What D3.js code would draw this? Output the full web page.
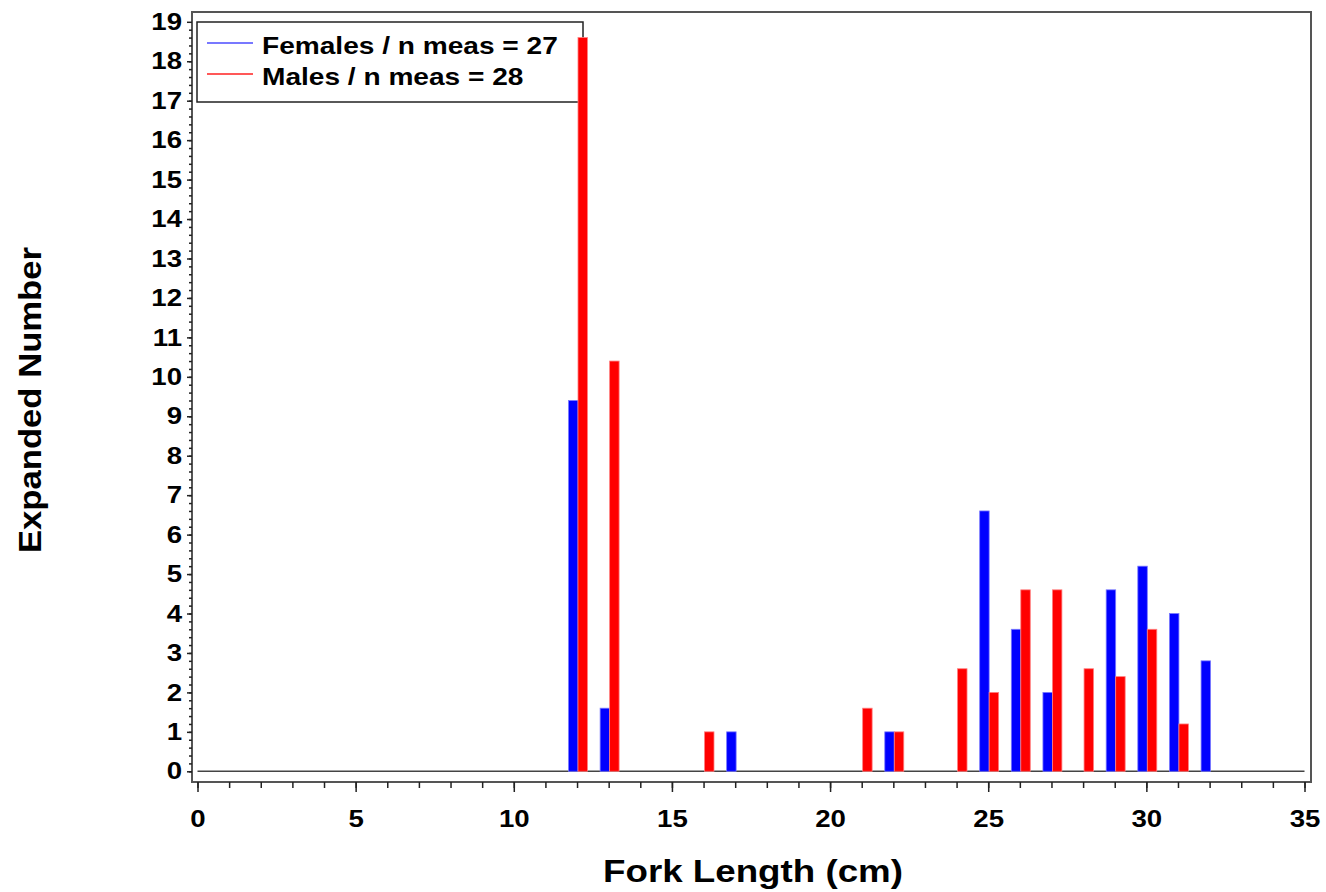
<!DOCTYPE html>
<html>

<head>
  <meta charset="utf-8">
  <title>Expanded Number by Fork Length</title>
  <style>
    body {
      margin: 0;
      background: #fff;
    }

    text {
      font-family: "Liberation Sans", Arial, sans-serif;
      font-weight: bold;
      fill: #000;
    }

    .frame {
      fill: none;
      stroke: #555;
      stroke-width: 2px;
    }

    .axis path {
      display: none;
    }

    .axis line {
      stroke: #222;
      stroke-width: 1.5px;
    }
  </style>
</head>

<body>
  <svg width="1326" height="892"></svg>

  <script src="https://d3js.org/d3.v7.min.js"></script>
  <script>
    // data
    var femaleLength = [12, 13, 17, 22, 25, 26, 27, 29, 30, 31, 32];
    var femaleNumber = [9.4, 1.6, 1.0, 1.0, 6.6, 3.6, 2.0, 4.6, 5.2, 4.0, 2.8];
    var maleLength = [12, 13, 16, 21, 22, 24, 25, 26, 27, 28, 29, 30, 31];
    var maleNumber = [18.6, 10.4, 1.0, 1.6, 1.0, 2.6, 2.0, 4.6, 4.6, 2.6, 2.4, 3.6, 1.2];
    var xTicks = [0, 5, 10, 15, 20, 25, 30, 35];
    var yTicks = d3.range(0, 20);
    var legendLabels = ["Females / n meas = 27", "Males / n meas = 28"];
    var colors = ["#0000ff", "#ff0000"];

    var svg = d3.select("svg");

    // plot frame
    var frame = { left: 192, top: 12, right: 1311, bottom: 782 };

    var x = d3.scaleLinear().domain([0, 35]).range([197.5, 1304.5]);
    var y = d3.scaleLinear().domain([0, 19]).range([771.3, 21.8]);

    // the picture is a bit wider than tall, so text gets stretched sideways
    function stretch(sel, k) {
      sel.each(function () {
        var w = this.getComputedTextLength();
        this.setAttribute("textLength", w * k);
        this.setAttribute("lengthAdjust", "spacingAndGlyphs");
      });
    }

    svg.append("rect")
      .attr("class", "frame")
      .attr("x", frame.left)
      .attr("y", frame.top)
      .attr("width", frame.right - frame.left)
      .attr("height", frame.bottom - frame.top);

    // zero line
    svg.append("line")
      .attr("x1", x(0)).attr("x2", x(35))
      .attr("y1", y(0)).attr("y2", y(0))
      .attr("stroke", "#444")
      .attr("stroke-width", 1.5);

    // x axis, minor then major
    svg.append("g")
      .attr("class", "axis")
      .attr("transform", "translate(0," + frame.bottom + ")")
      .call(d3.axisBottom(x).tickValues(d3.range(0, 36)).tickSize(6).tickFormat(""));

    var xAxis = svg.append("g")
      .attr("class", "axis")
      .attr("transform", "translate(0," + frame.bottom + ")")
      .call(d3.axisBottom(x).tickValues(xTicks).tickSize(10).tickPadding(18));
    xAxis.selectAll("text").style("font-size", "24px").attr("font-family", null);
    stretch(xAxis.selectAll("text"), 1.15);

    // y axis, minor then major
    svg.append("g")
      .attr("class", "axis")
      .attr("transform", "translate(" + frame.left + ",0)")
      .call(d3.axisLeft(y).tickValues(d3.range(0, 95).map(function (i) { return i * 0.2; })).tickSize(3).tickFormat(""));

    var yAxis = svg.append("g")
      .attr("class", "axis")
      .attr("transform", "translate(" + frame.left + ",0)")
      .call(d3.axisLeft(y).tickValues(yTicks).tickSize(5).tickPadding(5));
    yAxis.selectAll("text").style("font-size", "24px").attr("font-family", null);
    stretch(yAxis.selectAll("text"), 1.15);

    // legend
    var legend = svg.append("g");
    legend.append("rect")
      .attr("x", 197).attr("y", 22)
      .attr("width", 386).attr("height", 80)
      .attr("fill", "#fff")
      .attr("stroke", "#222")
      .attr("stroke-width", 1.5);

    legendLabels.forEach(function (lab, i) {
      var ly = 43 + i * 31;
      legend.append("line")
        .attr("x1", 207).attr("x2", 253)
        .attr("y1", ly).attr("y2", ly)
        .attr("stroke", i === 0 ? "#4b4bff" : "#ff2020")
        .attr("stroke-width", 1.5);
      var t = legend.append("text")
        .attr("x", 262)
        .attr("y", ly + 11)
        .style("font-size", "24px")
        .text(lab);
      stretch(t, 1.17);
    });

    // bars: females left of the length, males right of it
    var barW = x(0.3) - x(0);

    svg.append("g").selectAll("rect")
      .data(femaleLength)
      .enter().append("rect")
      .attr("x", function (d) { return x(d + 0.03) - barW; })
      .attr("y", function (d, i) { return y(femaleNumber[i]); })
      .attr("width", barW)
      .attr("height", function (d, i) { return y(0) - y(femaleNumber[i]); })
      .attr("fill", colors[0])
      .attr("stroke", "#7a7aff")
      .attr("stroke-width", 0.8);

    svg.append("g").selectAll("rect")
      .data(maleLength)
      .enter().append("rect")
      .attr("x", function (d) { return x(d + 0.03); })
      .attr("y", function (d, i) { return y(maleNumber[i]); })
      .attr("width", barW)
      .attr("height", function (d, i) { return y(0) - y(maleNumber[i]); })
      .attr("fill", colors[1])
      .attr("stroke", "#ff8080")
      .attr("stroke-width", 0.8);

    // axis titles
    var xt = svg.append("text")
      .attr("x", 753)
      .attr("y", 882)
      .attr("text-anchor", "middle")
      .style("font-size", "31px")
      .text("Fork Length (cm)");
    xt.attr("textLength", 300).attr("lengthAdjust", "spacingAndGlyphs");

    var yt = svg.append("text")
      .attr("transform", "translate(41,400) rotate(-90)")
      .attr("text-anchor", "middle")
      .style("font-size", "31px")
      .text("Expanded Number");
    yt.attr("textLength", 306).attr("lengthAdjust", "spacingAndGlyphs");
  </script>
</body>

</html>
